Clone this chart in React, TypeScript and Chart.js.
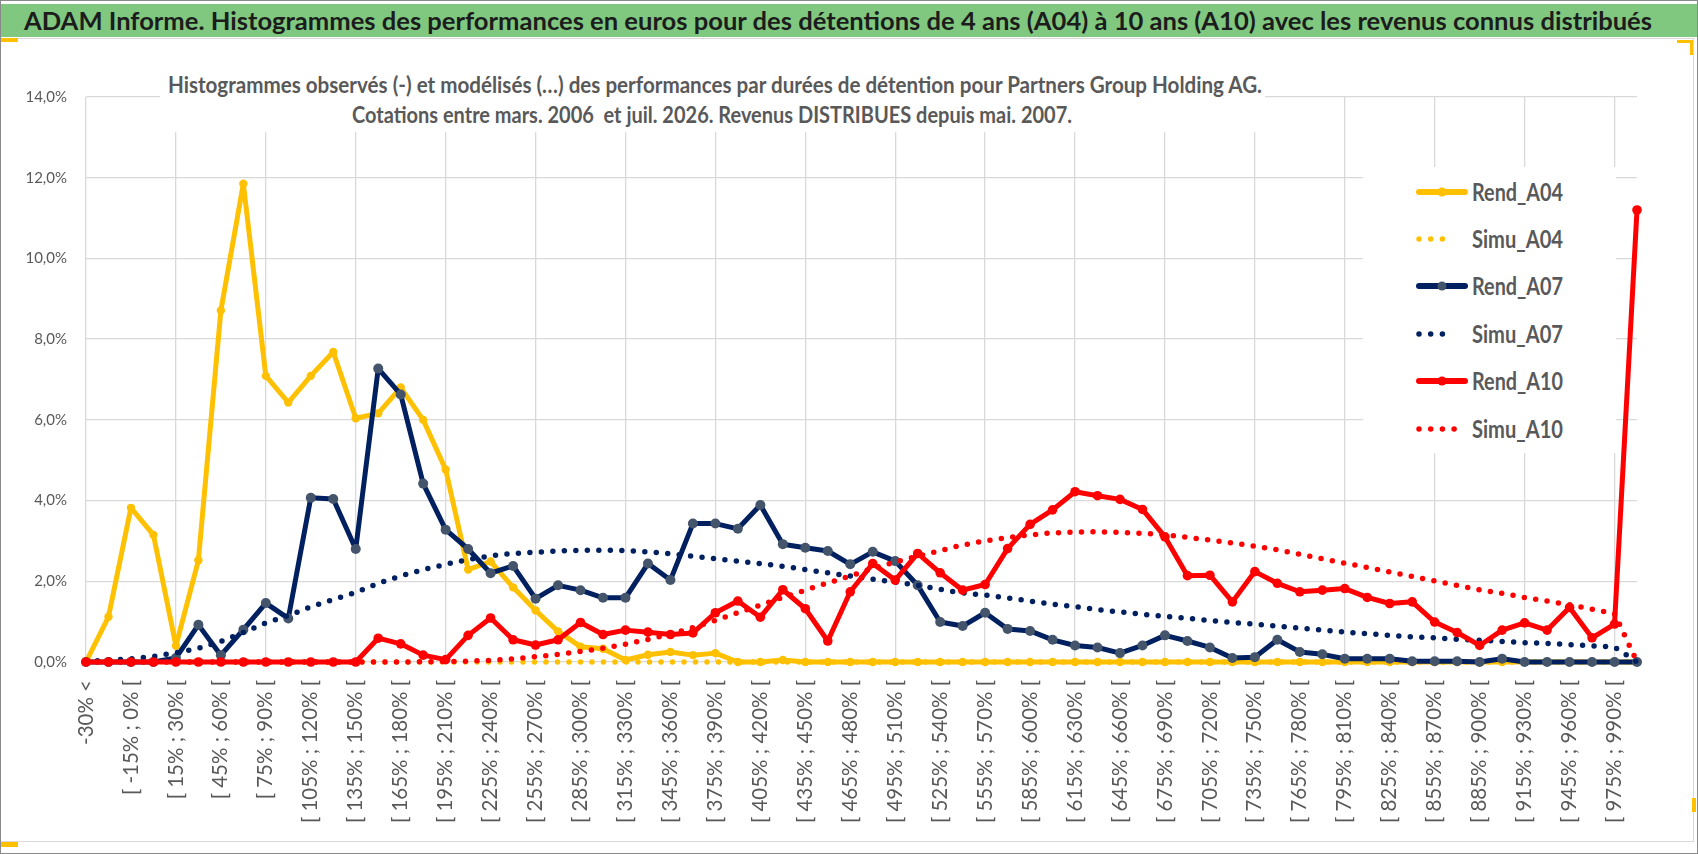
import React, { useEffect, useLayoutEffect, useRef } from "react";
import { Chart, registerables } from "chart.js";

Chart.register(...registerables);

const CATEGORIES: string[] = [
  "-30% <", "[ -30% ; -15% [", "[ -15% ; 0% [", "[ 0% ; 15% [", "[ 15% ; 30% [",
  "[ 30% ; 45% [", "[ 45% ; 60% [", "[ 60% ; 75% [", "[ 75% ; 90% [", "[ 90% ; 105% [",
  "[ 105% ; 120% [", "[ 120% ; 135% [", "[ 135% ; 150% [", "[ 150% ; 165% [", "[ 165% ; 180% [",
  "[ 180% ; 195% [", "[ 195% ; 210% [", "[ 210% ; 225% [", "[ 225% ; 240% [", "[ 240% ; 255% [",
  "[ 255% ; 270% [", "[ 270% ; 285% [", "[ 285% ; 300% [", "[ 300% ; 315% [", "[ 315% ; 330% [",
  "[ 330% ; 345% [", "[ 345% ; 360% [", "[ 360% ; 375% [", "[ 375% ; 390% [", "[ 390% ; 405% [",
  "[ 405% ; 420% [", "[ 420% ; 435% [", "[ 435% ; 450% [", "[ 450% ; 465% [", "[ 465% ; 480% [",
  "[ 480% ; 495% [", "[ 495% ; 510% [", "[ 510% ; 525% [", "[ 525% ; 540% [", "[ 540% ; 555% [",
  "[ 555% ; 570% [", "[ 570% ; 585% [", "[ 585% ; 600% [", "[ 600% ; 615% [", "[ 615% ; 630% [",
  "[ 630% ; 645% [", "[ 645% ; 660% [", "[ 660% ; 675% [", "[ 675% ; 690% [", "[ 690% ; 705% [",
  "[ 705% ; 720% [", "[ 720% ; 735% [", "[ 735% ; 750% [", "[ 750% ; 765% [", "[ 765% ; 780% [",
  "[ 780% ; 795% [", "[ 795% ; 810% [", "[ 810% ; 825% [", "[ 825% ; 840% [", "[ 840% ; 855% [",
  "[ 855% ; 870% [", "[ 870% ; 885% [", "[ 885% ; 900% [", "[ 900% ; 915% [", "[ 915% ; 930% [",
  "[ 930% ; 945% [", "[ 945% ; 960% [", "[ 960% ; 975% [", "[ 975% ; 990% [", "990% >",
];

// values in %
const REND_A04: number[] = [
  0, 1.12, 3.82, 3.15, 0.4, 2.52, 8.71, 11.85, 7.09, 6.43,
  7.09, 7.68, 6.04, 6.16, 6.8, 6.0, 4.77, 2.29, 2.49, 1.85,
  1.28, 0.76, 0.38, 0.33, 0.05, 0.18, 0.25, 0.17, 0.22, 0,
  0, 0.05, 0, 0, 0, 0, 0, 0, 0, 0,
  0, 0, 0, 0, 0, 0, 0, 0, 0, 0,
  0, 0, 0, 0, 0, 0, 0, 0, 0, 0,
  0, 0, 0, 0, 0, 0, 0, 0, 0, 0,
];

const SIMU_A04: number[] = [
  0, 0, 0, 0, 0, 0, 0, 0, 0, 0,
  0, 0, 0, 0, 0, 0, 0, 0, 0, 0,
  0, 0, 0, 0, 0, 0, 0, 0, 0, 0,
  0, 0, 0, 0, 0, 0, 0, 0, 0, 0,
  0, 0, 0, 0, 0, 0, 0, 0, 0, 0,
  0, 0, 0, 0, 0, 0, 0, 0, 0, 0,
  0, 0, 0, 0, 0, 0, 0, 0, 0, 0,
];

const REND_A07: number[] = [
  0, 0, 0, 0, 0.1, 0.92, 0.17, 0.8, 1.46, 1.08,
  4.07, 4.04, 2.8, 7.27, 6.63, 4.42, 3.28, 2.8, 2.2, 2.38,
  1.57, 1.9, 1.78, 1.59, 1.59, 2.44, 2.03, 3.43, 3.43, 3.3,
  3.89, 2.92, 2.83, 2.75, 2.42, 2.73, 2.5, 1.9, 0.99, 0.89,
  1.22, 0.82, 0.77, 0.55, 0.41, 0.36, 0.22, 0.41, 0.66, 0.52,
  0.36, 0.1, 0.12, 0.55, 0.25, 0.19, 0.08, 0.08, 0.08, 0.02,
  0.02, 0.02, 0, 0.08, 0, 0, 0, 0, 0, 0,
];

const SIMU_A07: number[] = [
  0.02, 0.04, 0.08, 0.14, 0.23, 0.34, 0.51, 0.73, 0.97, 1.15,
  1.37, 1.55, 1.72, 1.95, 2.13, 2.29, 2.42, 2.54, 2.63, 2.69,
  2.72, 2.75, 2.77, 2.77, 2.76, 2.73, 2.68, 2.62, 2.56, 2.5,
  2.44, 2.37, 2.29, 2.21, 2.13, 2.05, 1.98, 1.9, 1.8, 1.71,
  1.66, 1.59, 1.51, 1.43, 1.37, 1.3, 1.24, 1.18, 1.13, 1.08,
  1.03, 0.98, 0.94, 0.89, 0.84, 0.79, 0.74, 0.7, 0.66, 0.62,
  0.6, 0.56, 0.54, 0.51, 0.48, 0.46, 0.43, 0.4, 0.37, 0,
];

const REND_A10: number[] = [
  0, 0, 0, 0, 0, 0, 0, 0, 0, 0,
  0, 0, 0, 0.59, 0.45, 0.17, 0.06, 0.66, 1.09, 0.55,
  0.42, 0.55, 0.98, 0.68, 0.79, 0.74, 0.68, 0.72, 1.22, 1.51,
  1.11, 1.79, 1.32, 0.52, 1.74, 2.44, 2.03, 2.69, 2.21, 1.78,
  1.92, 2.81, 3.41, 3.77, 4.22, 4.12, 4.03, 3.78, 3.1, 2.14,
  2.15, 1.49, 2.24, 1.95, 1.74, 1.78, 1.82, 1.6, 1.45, 1.49,
  0.99, 0.73, 0.41, 0.79, 0.97, 0.79, 1.35, 0.6, 0.94, 11.2,
];

const SIMU_A10: number[] = [
  0, 0, 0, 0, 0, 0, 0, 0, 0, 0,
  0, 0, 0, 0, 0, 0.005, 0.01, 0.02, 0.04, 0.08,
  0.13, 0.19, 0.26, 0.34, 0.44, 0.56, 0.69, 0.85, 1.03, 1.22,
  1.41, 1.6, 1.78, 1.96, 2.13, 2.32, 2.48, 2.62, 2.76, 2.9,
  3.0, 3.08, 3.15, 3.2, 3.22, 3.23, 3.21, 3.19, 3.15, 3.09,
  3.02, 2.95, 2.87, 2.78, 2.67, 2.56, 2.45, 2.34, 2.23, 2.12,
  2.01, 1.9, 1.79, 1.7, 1.6, 1.51, 1.42, 1.31, 1.2, 0,
];

const Y_TICKS: number[] = [0, 2, 4, 6, 8, 10, 12, 14];

const TITLE =
  "ADAM Informe. Histogrammes des performances en euros pour des détentions de 4 ans (A04) à 10 ans (A10) avec les revenus connus distribués";
const SUBTITLE_1 =
  "Histogrammes observés (-) et modélisés (…) des performances par durées de détention pour Partners Group Holding AG.";
const SUBTITLE_2 =
  "Cotations entre mars. 2006  et juil. 2026. Revenus DISTRIBUES depuis mai. 2007.";

const GOLD = "#FFC000";
const NAVY = "#002060";
const NAVY_MARK = "#44546A";
const RED = "#FF0000";
const GRID = "#D9D9D9";
const TEXT_GRAY = "#595959";

type LegendItem = { label: string; color: string; dotted: boolean; marker?: string; dots?: number };
const LEGEND: LegendItem[] = [
  { label: "Rend_A04", color: GOLD, dotted: false, marker: GOLD },
  { label: "Simu_A04", color: GOLD, dotted: true, dots: 4 },
  { label: "Rend_A07", color: NAVY, dotted: false, marker: NAVY_MARK },
  { label: "Simu_A07", color: NAVY, dotted: true, dots: 4 },
  { label: "Rend_A10", color: RED, dotted: false, marker: RED },
  { label: "Simu_A10", color: RED, dotted: true, dots: 5 },
];

function FitText(props: { text: string; width: number; style?: React.CSSProperties }) {
  const ref = useRef<HTMLSpanElement>(null);
  useLayoutEffect(() => {
    const el = ref.current;
    if (!el) return;
    const fit = () => {
      el.style.transform = "none";
      const w = el.getBoundingClientRect().width;
      if (w > 0) el.style.transform = `scaleX(${props.width / w})`;
    };
    fit();
    const fonts = (document as any).fonts;
    if (fonts && fonts.ready) fonts.ready.then(fit);
  }, [props.text, props.width]);
  return (
    <span
      ref={ref}
      style={{
        display: "inline-block",
        whiteSpace: "pre",
        transformOrigin: "left center",
        ...props.style,
      }}
    >
      {props.text}
    </span>
  );
}

export default function App() {
  const canvasRef = useRef<HTMLCanvasElement>(null);

  useEffect(() => {
    document.body.style.margin = "0";
    const canvas = canvasRef.current;
    if (!canvas) return;
    const solid = (label: string, data: number[], color: string, mark: string, r: number, order: number) => ({
      label,
      data,
      borderColor: color,
      backgroundColor: mark,
      borderWidth: 5,
      pointRadius: r,
      pointBackgroundColor: mark,
      pointBorderColor: mark,
      pointBorderWidth: 0,
      tension: 0,
      order,
      clip: false as any,
      borderJoinStyle: "round" as const,
    });
    const dotted = (label: string, data: number[], color: string, order: number) => ({
      label,
      data,
      borderColor: color,
      backgroundColor: color,
      borderWidth: 5.5,
      borderDash: [0, 11.5],
      borderCapStyle: "round" as const,
      pointRadius: 0,
      tension: 0,
      order,
      clip: false as any,
    });
    const chart = new Chart(canvas, {
      type: "line",
      data: {
        labels: CATEGORIES,
        datasets: [
          solid("Rend_A04", REND_A04, GOLD, GOLD, 4.2, 6),
          dotted("Simu_A04", SIMU_A04, GOLD, 5),
          solid("Rend_A07", REND_A07, NAVY, NAVY_MARK, 5, 4),
          dotted("Simu_A07", SIMU_A07, NAVY, 3),
          solid("Rend_A10", REND_A10, RED, RED, 4.8, 2),
          dotted("Simu_A10", SIMU_A10, RED, 1),
        ] as any,
      },
      options: {
        responsive: false,
        animation: false,
        layout: { padding: { left: 0, right: 61, top: 97, bottom: 0 } },
        plugins: {
          legend: { display: false },
          title: { display: false },
          tooltip: { enabled: false },
        },
        scales: {
          x: {
            type: "category",
            offset: false,
            grid: {
              color: (c: any) => (c.index % 4 === 0 ? GRID : "rgba(0,0,0,0)"),
              lineWidth: 1.3,
              drawTicks: false,
            },
            border: { display: false },
            ticks: {
              autoSkip: false,
              maxRotation: 90,
              minRotation: 90,
              padding: 18,
              color: TEXT_GRAY,
              font: { family: "Lato", size: 20.5 },
              callback: (_v: any, i: number) => (i % 2 === 0 ? CATEGORIES[i] : ""),
            },
            afterFit: (s: any) => {
              s.height = 192;
            },
          },
          y: {
            min: Y_TICKS[0],
            max: Y_TICKS[Y_TICKS.length - 1],
            afterBuildTicks: (s: any) => {
              s.ticks = Y_TICKS.map((v) => ({ value: v }));
            },
            grid: { color: GRID, lineWidth: 1.3, drawTicks: false },
            border: { display: false },
            ticks: {
              padding: 19,
              color: TEXT_GRAY,
              font: { family: "Lato", size: 15 },
              callback: (v: any) => Number(v).toFixed(1).replace(".", ",") + "%",
            },
            afterFit: (s: any) => {
              s.width = 86;
            },
          },
        },
      },
    });
    return () => chart.destroy();
  }, []);

  const rowY = [192, 239, 286, 334, 381, 429];

  return (
    <div
      style={{
        position: "relative",
        width: 1698,
        height: 854,
        overflow: "hidden",
        background: "#fff",
        fontFamily: "Lato, 'Open Sans', sans-serif",
      }}
    >
      {/* chart frame */}
      <div
        style={{
          position: "absolute",
          left: 0,
          top: 38,
          width: 1694,
          height: 804,
          border: "1.5px solid #D9D9D9",
          boxSizing: "border-box",
        }}
      />
      <canvas
        ref={canvasRef}
        width={1698}
        height={854}
        style={{ position: "absolute", left: 0, top: 0, width: 1698, height: 854 }}
      />
      {/* title bar */}
      <div
        style={{
          position: "absolute",
          left: 1,
          top: 4,
          width: 1696,
          height: 33,
          background: "#80C880",
        }}
      >
        <div style={{ position: "absolute", left: 23, top: 0, height: 33, lineHeight: "33px" }}>
          <FitText
            text={TITLE}
            width={1628}
            style={{ fontSize: 25, fontWeight: 700, color: "#1C1C1C" }}
          />
        </div>
      </div>
      {/* subtitle box */}
      <div
        style={{
          position: "absolute",
          left: 160,
          top: 66,
          width: 1105,
          height: 66,
          background: "#fff",
        }}
      />
      <div style={{ position: "absolute", left: 168, top: 70, height: 28, lineHeight: "28px" }}>
        <FitText text={SUBTITLE_1} width={1094} style={{ fontSize: 23, fontWeight: 700, color: TEXT_GRAY }} />
      </div>
      <div style={{ position: "absolute", left: 352, top: 100, height: 28, lineHeight: "28px" }}>
        <FitText text={SUBTITLE_2} width={720} style={{ fontSize: 23, fontWeight: 700, color: TEXT_GRAY }} />
      </div>
      {/* legend */}
      <div
        style={{
          position: "absolute",
          left: 1363,
          top: 167,
          width: 253,
          height: 286,
          background: "#fff",
        }}
      />
      {LEGEND.map((it, k) => {
        const y = rowY[k];
        return (
          <React.Fragment key={it.label}>
            <svg
              width={60}
              height={16}
              style={{ position: "absolute", left: 1412, top: y - 8 }}
            >
              {it.dotted ? (
                <line
                  x1={7}
                  y1={8}
                  x2={7 + ((it.dots || 4) - 1) * 11.7}
                  y2={8}
                  stroke={it.color}
                  strokeWidth={5.5}
                  strokeLinecap="round"
                  strokeDasharray="0 11.7"
                />
              ) : (
                <>
                  <line x1={7} y1={8} x2={53} y2={8} stroke={it.color} strokeWidth={6} strokeLinecap="round" />
                  <circle cx={30} cy={8} r={4.5} fill={it.marker} />
                </>
              )}
            </svg>
            <div style={{ position: "absolute", left: 1472, top: y - 15, height: 30, lineHeight: "30px" }}>
              <FitText text={it.label} width={91} style={{ fontSize: 24, fontWeight: 700, color: TEXT_GRAY }} />
            </div>
          </React.Fragment>
        );
      })}
      {/* selection handles */}
      <div style={{ position: "absolute", left: 1, top: 38, width: 17, height: 4, background: GOLD }} />
      <div style={{ position: "absolute", left: 1677, top: 40, width: 16, height: 3, background: GOLD }} />
      <div style={{ position: "absolute", left: 1690, top: 40, width: 3, height: 15, background: GOLD }} />
      <div style={{ position: "absolute", left: 1, top: 842, width: 17, height: 5, background: GOLD }} />
      <div style={{ position: "absolute", left: 1692, top: 798, width: 4, height: 14, background: GOLD }} />
      {/* outer border */}
      <div
        style={{
          position: "absolute",
          left: 0,
          top: 0,
          width: 1698,
          height: 854,
          border: "1.5px solid #8A8A8A",
          boxSizing: "border-box",
          pointerEvents: "none",
        }}
      />
    </div>
  );
}
